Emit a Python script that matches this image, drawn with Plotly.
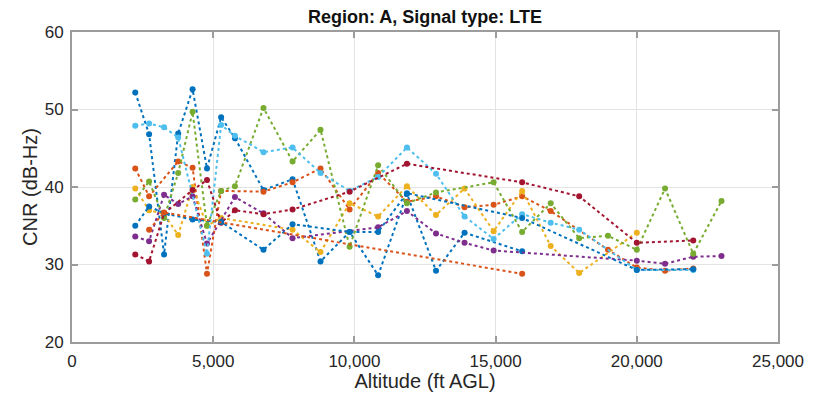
import plotly.graph_objects as go

# Altitudes (ft AGL) and CNR (dB-Hz) per series
db1_x = [2240, 2730, 3260, 3760, 4270, 4780, 5280, 5770, 6780, 7810, 8800, 9830, 10840, 11860, 12890, 13900, 15940]
db1_y = [52.2, 46.8, 31.3, 46.9, 52.6, 42.4, 49.0, 46.3, 39.6, 41.0, 30.4, 34.2, 28.6, 39.1, 29.2, 34.1, 31.7]

db2_x = [2240, 2730, 3260, 4270, 5280, 6780, 7810, 9830, 10840, 11860, 15940, 20000, 22000]
db2_y = [35.0, 37.5, 36.6, 35.8, 35.5, 31.9, 35.2, 34.2, 34.2, 39.2, 36.0, 29.3, 29.4]

lb_x = [2240, 2730, 3260, 3760, 4780, 5280, 5770, 6780, 7810, 8800, 9830, 10840, 11860, 12890, 13900, 14930, 15940, 16950, 17960, 20000, 22000]
lb_y = [47.9, 48.2, 47.7, 46.4, 31.4, 48.0, 46.6, 44.5, 45.1, 41.8, 39.5, 41.3, 45.1, 41.7, 36.2, 33.3, 36.5, 35.4, 34.5, 29.3, 29.3]

gr_x = [2240, 2730, 3260, 3760, 4270, 4780, 5280, 5770, 6780, 7810, 8800, 9830, 10840, 11860, 12890, 14930, 15940, 16950, 17960, 18980, 20000, 21000, 22000, 23000]
gr_y = [38.4, 40.7, 36.0, 41.8, 49.7, 35.0, 39.5, 40.1, 50.2, 43.3, 47.4, 32.3, 42.8, 37.9, 39.3, 40.6, 34.2, 37.9, 33.4, 33.7, 31.9, 39.8, 31.4, 38.2]

or1_x = [2240, 2730, 3760, 4270, 4780, 5280, 6780, 7810, 8800, 9830, 10840, 11860, 12890, 13900, 14930, 15940, 16950, 18980, 20000, 21000, 22000]
or1_y = [42.4, 38.8, 43.3, 42.5, 28.8, 39.5, 39.4, 40.6, 42.4, 37.1, 41.8, 38.1, 38.8, 37.4, 37.7, 38.8, 36.9, 31.9, 29.6, 29.2, 29.5]

or2_x = [2730, 3260, 15940]
or2_y = [34.5, 36.7, 28.8]

ye_x = [2240, 2730, 3260, 3760, 4270, 4780, 5280, 7810, 8800, 9830, 10840, 11860, 12890, 13900, 14930, 15940, 16950, 17960, 20000]
ye_y = [39.8, 37.0, 36.5, 33.8, 40.0, 35.0, 36.0, 34.5, 31.6, 37.9, 36.2, 40.1, 36.4, 39.8, 34.3, 39.5, 32.4, 28.9, 34.1]

pu_x = [2240, 2730, 3260, 3760, 4270, 4780, 5770, 6780, 7810, 10840, 11860, 12890, 13900, 14930, 20000, 21000, 22000, 23000]
pu_y = [33.6, 33.0, 39.0, 37.8, 38.8, 32.7, 38.7, 36.6, 33.4, 34.8, 36.9, 34.0, 32.8, 31.8, 30.5, 30.1, 31.0, 31.1]

dr_x = [2240, 2730, 3260, 4270, 4780, 5280, 5770, 6780, 7810, 9830, 11860, 15940, 17960, 20000, 22000]
dr_y = [31.3, 30.4, 36.6, 39.6, 40.9, 35.4, 37.0, 36.5, 37.1, 39.4, 43.0, 40.6, 38.8, 32.8, 33.1]

x_tick_vals = [0, 5000, 10000, 15000, 20000, 25000]
x_tick_text = ["0", "5,000", "10,000", "15,000", "20,000", "25,000"]
y_tick_vals = [20, 30, 40, 50, 60]

series = [
    (db1_x, db1_y, "#0072BD"),
    (or1_x, or1_y, "#D95319"),
    (ye_x, ye_y, "#EDB120"),
    (pu_x, pu_y, "#7E2F8E"),
    (gr_x, gr_y, "#77AC30"),
    (lb_x, lb_y, "#4DBEEE"),
    (dr_x, dr_y, "#A2142F"),
    (db2_x, db2_y, "#0072BD"),
    (or2_x, or2_y, "#D95319"),
]

FONT = "Liberation Sans, Arial, sans-serif"

fig = go.Figure()
for xs, ys, c in series:
    fig.add_trace(go.Scatter(
        x=xs, y=ys, mode="lines+markers",
        line=dict(color=c, width=2, dash="dot"),
        marker=dict(color=c, size=6),
        showlegend=False,
    ))

axis_common = dict(
    showline=True, linecolor="#9c9c9c", linewidth=2, mirror="ticks",
    ticks="inside", ticklen=6, tickcolor="#9c9c9c", tickwidth=1.5,
    showgrid=True, gridcolor="#e3e3e3", gridwidth=1,
    zeroline=False, automargin=False, ticklabeloverflow="allow",
    tickfont=dict(family=FONT, size=17, color="#262626"),
)

# page body has an 8px margin, so the figure is drawn from (8, 8)
fig.update_layout(
    width=812, height=384,
    margin=dict(l=64, r=42, t=24, b=50),
    paper_bgcolor="white", plot_bgcolor="white",
    title=dict(text="<b>Region: A, Signal type: LTE</b>", x=0.5, xanchor="center",
               xref="paper", yref="container", y=1.0, yanchor="top",
               pad=dict(t=2),
               font=dict(family=FONT, size=18, color="#111111")),
    xaxis=dict(range=[0, 25000], tickvals=x_tick_vals, ticktext=x_tick_text,
               ticklabelstandoff=3,
               title=dict(text="Altitude (ft AGL)", standoff=6,
                          font=dict(family=FONT, size=20, color="#262626")),
               **axis_common),
    yaxis=dict(range=[20, 60], tickvals=y_tick_vals,
               ticklabelstandoff=3,
               title=dict(text="CNR (dB-Hz)", standoff=2,
                          font=dict(family=FONT, size=20, color="#262626")),
               **axis_common),
)

fig.write_html("out.html")
